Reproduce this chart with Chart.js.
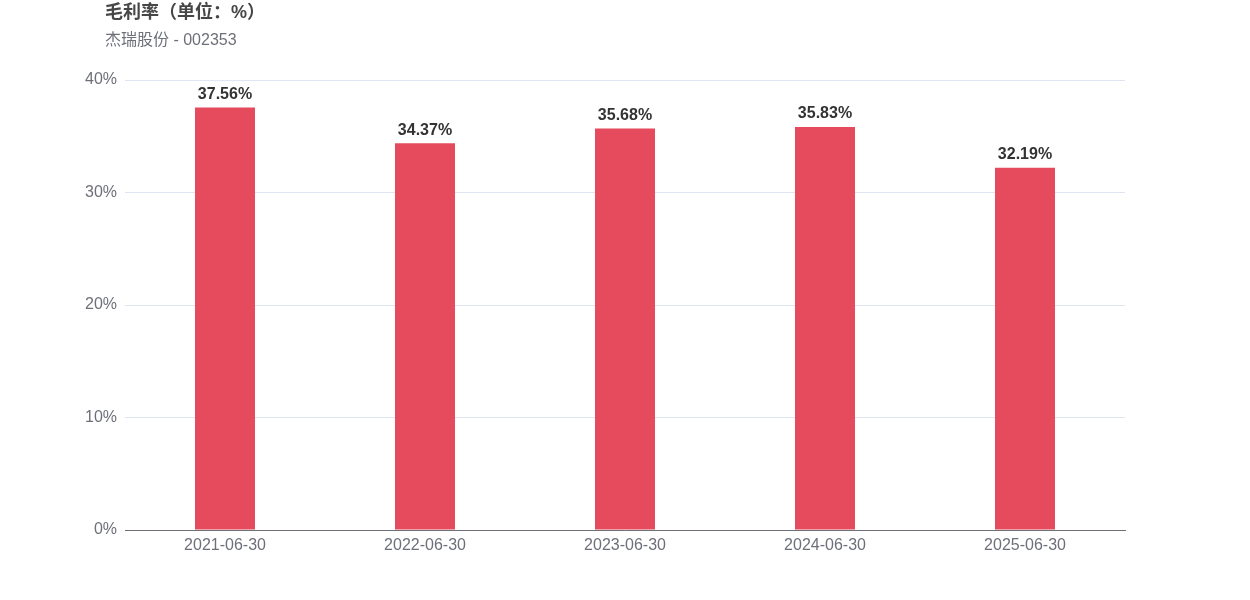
<!DOCTYPE html>
<html>
<head>
<meta charset="utf-8">
<script src="https://cdn.jsdelivr.net/npm/chart.js@4"></script>
<style>
html,body{margin:0;padding:0;background:#fff;}
#wrap{position:relative;width:1250px;height:600px;}
#title{position:absolute;left:105px;top:1px;font:bold 18px "Liberation Sans","Noto Sans CJK SC",sans-serif;color:#464646;line-height:22px;white-space:nowrap;}
#sub{position:absolute;left:105px;top:30px;font:16px "Liberation Sans","Noto Sans CJK SC",sans-serif;color:#6e7079;line-height:20px;white-space:nowrap;}
canvas{position:absolute;left:0;top:0;}
</style>
</head>
<body>
<div id="wrap">
<canvas id="c" width="1250" height="600"></canvas>
<div id="title">毛利率（单位：%）</div>
<div id="sub">杰瑞股份 - 002353</div>
</div>
<script>
const categories = ["2021-06-30","2022-06-30","2023-06-30","2024-06-30","2025-06-30"];
const grossMargin = [37.56, 34.37, 35.68, 35.83, 32.19];
const yTicks = [0, 10, 20, 30, 40];

const FONT = '"Liberation Sans","Noto Sans CJK SC",sans-serif';

const labelPlugin = {
  id: 'valLabels',
  afterDatasetsDraw(chart) {
    const ctx = chart.ctx;
    const meta = chart.getDatasetMeta(0);
    ctx.save();
    ctx.font = 'bold 16px ' + FONT;
    ctx.fillStyle = '#333333';
    ctx.textAlign = 'center';
    ctx.textBaseline = 'bottom';
    meta.data.forEach((bar, i) => {
      ctx.fillText(grossMargin[i].toFixed(2) + '%', bar.x, bar.y - 5);
    });
    ctx.restore();
  }
};

new Chart(document.getElementById('c'), {
  type: 'bar',
  data: {
    labels: categories,
    datasets: [{
      data: grossMargin,
      backgroundColor: '#e54b5d',
      borderWidth: 0,
      barPercentage: 0.3,
      categoryPercentage: 1.0
    }]
  },
  options: {
    responsive: false,
    animation: false,
    devicePixelRatio: 1,
    layout: { padding: { left: 0, right: 125, top: 80, bottom: 0 } },
    plugins: { legend: { display: false }, tooltip: { enabled: false }, title: { display: false } },
    scales: {
      x: {
        grid: { display: false, drawTicks: false },
        border: { display: true, color: '#6e7079', width: 1 },
        ticks: { color: '#6e7079', font: { size: 16, family: FONT }, padding: 6, maxRotation: 0 },
        afterFit(s) { s.height = 70; }
      },
      y: {
        min: 0, max: 40,
        afterBuildTicks(s) { s.ticks = yTicks.map(v => ({ value: v })); },
        grid: { color: '#e0e6f1', drawTicks: false, lineWidth: 1 },
        border: { display: false },
        ticks: { color: '#6e7079', font: { size: 16, family: FONT }, padding: 8, callback: v => v + '%' },
        afterFit(s) { s.width = 125; }
      }
    }
  },
  plugins: [labelPlugin]
});
</script>
</body>
</html>
